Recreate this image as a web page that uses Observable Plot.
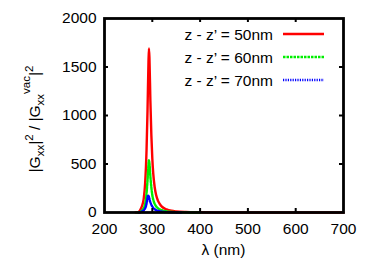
<!DOCTYPE html>
<html><head><meta charset="utf-8">
<script src="https://cdn.jsdelivr.net/npm/d3@7"></script>
<script src="https://cdn.jsdelivr.net/npm/@observablehq/plot@0.6"></script>
<style>body{margin:0;background:#fff}svg{font-family:"Liberation Sans",Arial,sans-serif}</style>
</head><body><div id="chart"></div>
<script>
const lambda50 = [265, 270, 274, 278, 282, 285, 288, 290, 292, 293, 294, 296, 298, 300, 302, 305, 308, 312, 316, 320, 330, 340, 350, 370, 400, 450, 700];
const g50      = [0,   3,   20,  60,  140, 300, 650, 1050, 1550, 1690, 1600, 1150, 800, 560, 400, 260, 180, 120, 85, 60, 32, 18, 11, 5, 2, 0, 0];
const lambda60 = [268, 272, 276, 280, 284, 287, 290, 292, 293, 294, 296, 298, 300, 303, 306, 310, 315, 320, 330, 340, 360, 400];
const g60      = [0,   2,   10,  30,  70,  150, 330, 490, 540, 510, 370, 260, 180, 115, 80,  52,  33,  23,  12,  6,   2,   0];
const lambda70 = [272, 276, 280, 284, 287, 289, 291, 293, 295, 298, 300, 303, 306, 310, 315, 320, 330, 340, 360];
const g70      = [0,   5,   15,  35,  70,  120, 175, 160, 120, 80,  62,  42,  30,  20,  13,  9,   4,   2,   0];
const seriesNames = ["z - z\u2019 = 50nm", "z - z\u2019 = 60nm", "z - z\u2019 = 70nm"];
const seriesColors = ["#ff0000", "#00ee00", "#0000ff"];
const seriesDash = [null, "2.5,1", "1.2,1.2"];
const xTicks = [200, 300, 400, 500, 600, 700];
const yTicks = [0, 500, 1000, 1500, 2000];
const xInner = [300, 400, 500, 600];
const yInner = [500, 1000, 1500];

const toRows = (xs, ys) => xs.map((x, i) => ({x, y: ys[i]}));
const sets = [toRows(lambda50, g50), toRows(lambda60, g60), toRows(lambda70, g70)];

const W = 374, H = 262, mL = 104, mR = 31, mT = 18, mB = 50;
const fw = W - mL - mR, fh = H - mT - mB;
const FS = 15.5;

const marks = [];
[0, 1, 2].forEach(i => {
  marks.push(Plot.line(sets[i], {x: "x", y: "y", stroke: seriesColors[i], strokeWidth: 2.4, strokeDasharray: seriesDash[i], curve: "monotone-x"}));
});
marks.push(
  Plot.ruleX(xInner, {x: d => d, insetTop: fh - 4, stroke: "black", strokeWidth: 2}),
  Plot.ruleX(xInner, {x: d => d, insetBottom: fh - 4, stroke: "black", strokeWidth: 2}),
  Plot.ruleY(yInner, {y: d => d, insetRight: fw - 4, stroke: "black", strokeWidth: 2}),
  Plot.ruleY(yInner, {y: d => d, insetLeft: fw - 4, stroke: "black", strokeWidth: 2}),
  Plot.axisX(xTicks, {tickSize: 0, tickPadding: 10, fontSize: FS, label: null, tickFormat: d => String(d)}),
  Plot.axisY(yTicks, {tickSize: 0, tickPadding: 8, fontSize: FS, label: null, tickFormat: d => String(d)}),
  Plot.frame({stroke: "black", strokeWidth: 2.8})
);

const plot = Plot.plot({
  width: W, height: H, marginLeft: mL, marginRight: mR, marginTop: mT, marginBottom: mB,
  x: {domain: [200, 700]},
  y: {domain: [0, 2000]},
  style: {fontFamily: "Liberation Sans, Arial, sans-serif", fontSize: FS + "px", color: "black", background: "white"},
  marks
});
document.getElementById("chart").appendChild(plot);

const svg = d3.select(plot);
// x label
svg.append("text").attr("x", mL + fw / 2).attr("y", 255).attr("text-anchor", "middle")
  .attr("font-size", FS).attr("fill", "black").text("\u03bb (nm)");
// y label
const yl = svg.append("text").attr("transform", `translate(40,119) rotate(-90)`)
  .attr("text-anchor", "middle").attr("font-size", FS).attr("fill", "black");
const parts = [["|G", 0], ["xx", -1], ["|", 0], ["2", 1], [" / |G", 0], ["xx", -1], ["vac", 2], ["|", 0], ["2", 1]];
let cur = 0;
parts.forEach(([t, lvl]) => {
  const off = lvl === -1 ? 4 : lvl === 1 ? -7 : lvl === 2 ? -10 : 0;
  yl.append("tspan").attr("dy", off - cur).attr("font-size", lvl === 0 ? FS : 11.5).text(t);
  cur = off;
});
// legend
seriesNames.forEach((name, i) => {
  const cy = 34 + i * 23;
  svg.append("text").attr("x", 273).attr("y", cy + 5.5).attr("text-anchor", "end")
    .attr("font-size", FS).attr("fill", "black").text(name);
  svg.append("line").attr("x1", 283).attr("x2", 324).attr("y1", cy).attr("y2", cy)
    .attr("stroke", seriesColors[i]).attr("stroke-width", 2.4)
    .attr("stroke-dasharray", seriesDash[i]);
});
</script></body></html>
